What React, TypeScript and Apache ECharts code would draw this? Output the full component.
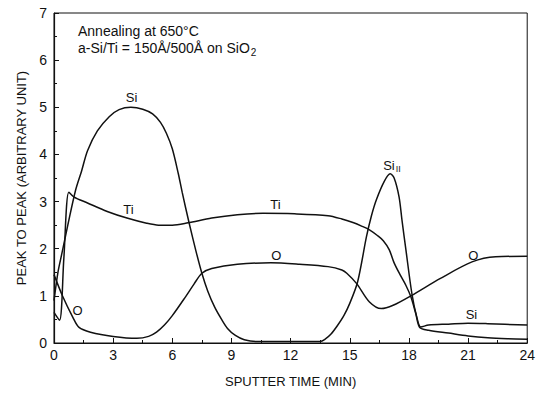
import React, { useEffect, useRef } from "react";
import * as echarts from "echarts";

// Auger depth profile: peak-to-peak heights vs sputter time
const siProfile: [number, number][] = [
  [0, 0.9], [0.2, 1.5], [0.4, 1.9], [0.7, 2.5], [1.1, 3.25], [1.4, 3.65], [1.7, 4.08],
  [2.2, 4.5], [2.8, 4.8], [3.3, 4.95], [3.9, 5.0], [4.5, 4.96], [5.0, 4.86], [5.4, 4.68],
  [5.7, 4.45], [6.0, 4.12], [6.3, 3.6], [6.5, 3.2], [6.85, 2.55], [7.2, 1.95], [7.5, 1.48],
  [7.8, 1.1], [8.15, 0.76], [8.5, 0.5], [8.8, 0.31], [9.2, 0.16], [9.65, 0.07], [10.3, 0.03],
  [13.5, 0.03], [13.75, 0.08], [14.05, 0.19], [14.36, 0.36], [14.7, 0.58], [15.0, 0.84],
  [15.4, 1.3], [15.85, 2.26], [16.1, 2.7], [16.35, 3.04], [16.75, 3.43], [17.05, 3.59],
  [17.25, 3.5], [17.5, 3.1], [17.65, 2.6], [17.85, 1.97], [18.15, 1.05], [18.4, 0.55],
  [18.6, 0.34], [19.0, 0.38], [20.0, 0.4], [21.0, 0.42], [22.0, 0.41], [24.0, 0.38],
];

const tiProfile: [number, number][] = [
  [0, 0.65], [0.28, 0.48], [0.5, 1.8], [0.75, 3.2], [1.0, 3.1], [1.7, 2.97], [2.7, 2.79],
  [3.7, 2.65], [4.7, 2.54], [5.3, 2.5], [6.0, 2.5], [6.8, 2.55], [8.0, 2.65], [9.3, 2.72],
  [10.6, 2.75], [12.2, 2.74], [13.9, 2.7], [14.6, 2.63], [15.2, 2.55], [15.6, 2.48],
  [16.0, 2.4], [16.4, 2.28], [16.7, 2.17], [17.0, 1.98], [17.25, 1.7], [17.55, 1.45],
  [17.85, 1.22], [18.1, 0.98], [18.35, 0.62], [18.55, 0.33], [19.0, 0.27], [20.0, 0.21],
  [21.0, 0.15], [22.0, 0.11], [23.0, 0.09], [24.0, 0.08],
];

const oProfile: [number, number][] = [
  [0, 1.45], [0.45, 0.98], [0.95, 0.55], [1.27, 0.33], [1.85, 0.23], [3.0, 0.14],
  [4.2, 0.1], [4.8, 0.14], [5.2, 0.23], [5.6, 0.38], [6.0, 0.58], [6.67, 0.98], [7.1, 1.25],
  [7.5, 1.48], [8.0, 1.58], [9.3, 1.67], [11.0, 1.7], [12.45, 1.67], [13.9, 1.62],
  [14.6, 1.55], [14.85, 1.48], [15.35, 1.26], [16.0, 0.87], [16.6, 0.73], [17.2, 0.8],
  [18.1, 1.0], [19.6, 1.37], [21.2, 1.72], [22.4, 1.83], [24.0, 1.84],
];

// Curve labels placed in data coordinates
const siLabels: [number, number][] = [[3.93, 5.2], [21.17, 0.6]];
const siIILabel: [number, number] = [17.14, 3.76];
const tiLabels: [number, number][] = [[3.78, 2.83], [11.23, 2.93]];
const oLabels: [number, number][] = [[1.19, 0.68], [11.28, 1.85], [21.27, 1.85]];

const xTicks = [0, 3, 6, 9, 12, 15, 18, 21, 24];
const yTicks = [0, 1, 2, 3, 4, 5, 6, 7];

const INK = "#111";
const FONT = "Liberation Sans";

function labelPoints(coords: [number, number][], text: string) {
  return coords.map((c) => ({ coord: c, value: text }));
}

function lineSeries(name: string, data: [number, number][], marks: any[]) {
  return {
    name,
    type: "line",
    data,
    smooth: 0.3,
    symbol: "none",
    lineStyle: { color: INK, width: 1.5 },
    markPoint: {
      symbol: "circle",
      symbolSize: 0,
      silent: true,
      label: {
        show: true,
        position: "inside",
        color: INK,
        fontFamily: FONT,
        fontSize: 13,
        formatter: (p: any) => p.data.value,
        rich: { sub: { fontSize: 9, fontFamily: FONT, color: INK, padding: [6, 0, 0, 1] } },
      },
      data: marks,
    },
  };
}

export default function App() {
  const ref = useRef<HTMLDivElement>(null);

  useEffect(() => {
    if (!ref.current) return;
    const chart = echarts.init(ref.current, undefined, { renderer: "svg" });
    chart.setOption({
      animation: false,
      backgroundColor: "#fff",
      textStyle: { fontFamily: FONT },
      grid: {
        left: 54,
        right: 1,
        top: 13,
        bottom: 50,
        show: true,
        borderColor: INK,
        borderWidth: 1,
      },
      xAxis: {
        type: "value",
        min: 0,
        max: 24,
        interval: 3,
        name: "SPUTTER TIME (MIN)",
        nameLocation: "middle",
        nameGap: 32,
        nameTextStyle: { color: INK, fontSize: 13, fontFamily: FONT },
        axisLine: { show: true, lineStyle: { color: INK, width: 1.2 } },
        axisTick: { show: true, inside: true, length: 5, lineStyle: { color: INK } },
        minorTick: { show: true, splitNumber: 2, length: 3, lineStyle: { color: INK } },
        splitLine: { show: false },
        axisLabel: {
          color: INK,
          fontSize: 14,
          margin: 5,
          fontFamily: FONT,
          formatter: (v: number) => (xTicks.includes(v) ? String(v) : ""),
        },
      },
      yAxis: {
        type: "value",
        min: 0,
        max: 7,
        interval: 1,
        name: "PEAK TO PEAK (ARBITRARY UNIT)",
        nameLocation: "middle",
        nameGap: 26,
        nameTextStyle: { color: INK, fontSize: 13, fontFamily: FONT },
        axisLine: { show: true, lineStyle: { color: INK, width: 1.2 } },
        axisTick: { show: true, inside: true, length: 5, lineStyle: { color: INK } },
        minorTick: { show: true, splitNumber: 2, length: 3, lineStyle: { color: INK } },
        splitLine: { show: false },
        axisLabel: {
          color: INK,
          fontSize: 14,
          margin: 7,
          fontFamily: FONT,
          formatter: (v: number) => (yTicks.includes(v) ? String(v) : ""),
        },
      },
      graphic: [
        {
          type: "text",
          left: 78,
          top: 24,
          style: {
            text: "Annealing at 650°C",
            fill: INK,
            font: `14px "${FONT}"`,
          },
        },
        {
          type: "text",
          left: 78,
          top: 41,
          style: {
            text: "a-Si/Ti = 150Å/500Å on SiO{sub|2}",
            fill: INK,
            font: `14px "${FONT}"`,
            rich: { sub: { fontSize: 10, fontFamily: FONT, fill: INK, padding: [8, 0, 0, 1] } },
          },
        },
      ],
      series: [
        lineSeries("Si", siProfile, [
          ...labelPoints(siLabels, "Si"),
          { coord: siIILabel, value: "Si{sub|II}" },
        ]),
        lineSeries("Ti", tiProfile, labelPoints(tiLabels, "Ti")),
        lineSeries("O", oProfile, labelPoints(oLabels, "O")),
      ],
    });
    return () => chart.dispose();
  }, []);

  return <div ref={ref} style={{ width: 538, height: 393, position: "absolute", left: 0, top: 0 }} />;
}
